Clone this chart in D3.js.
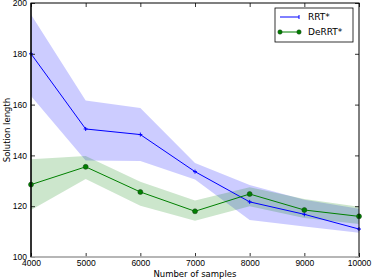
<!DOCTYPE html>
<html>
<head>
<meta charset="utf-8">
<script src="https://cdn.jsdelivr.net/npm/d3@7"></script>
<style>
    body { margin: 0; background: #fff; }
    svg { display: block; font-family: "DejaVu Sans", sans-serif; }
</style>
</head>
<body>
<svg id="chart" width="374" height="280"></svg>
<script>
// Data
const samples = [4000, 5000, 6000, 7000, 8000, 9000, 10000];
const rrtMean = [180, 150.4, 148.2, 133.6, 121.7, 116.8, 111];
const rrtUpper = [195.5, 161.6, 158.7, 137, 128.3, 122.5, 119];
const rrtLower = [163.4, 138, 137.8, 130.5, 114.6, 112, 109.5];
const derrtMean = [128.5, 135.5, 125.6, 118, 124.8, 118.5, 116];
const derrtUpper = [138.5, 139.8, 129.6, 122.2, 127.5, 122.8, 119.8];
const derrtLower = [118.5, 130.7, 120.2, 114.3, 120, 115.4, 113];
const xTicks = [4000, 5000, 6000, 7000, 8000, 9000, 10000];
const yTicks = [100, 120, 140, 160, 180, 200];

const margin = { top: 3, right: 15, bottom: 23, left: 31 };
const svg = d3.select('#chart');
const width = 374 - margin.left - margin.right;
const height = 280 - margin.top - margin.bottom;

const x = d3.scaleLinear().domain([4000, 10000]).range([0, width]);
const y = d3.scaleLinear().domain([100, 200]).range([height, 0]);

const g = svg.append('g').attr('transform', `translate(${margin.left},${margin.top})`);

// Bands
const area = (lo, hi) => d3.area()
    .x((d, i) => x(samples[i]))
    .y0((d, i) => y(lo[i]))
    .y1((d, i) => y(hi[i]));

g.append('path')
    .datum(samples)
    .attr('d', area(rrtLower, rrtUpper))
    .attr('fill', '#0000ff')
    .attr('fill-opacity', 0.2);

g.append('path')
    .datum(samples)
    .attr('d', area(derrtLower, derrtUpper))
    .attr('fill', '#008000')
    .attr('fill-opacity', 0.2);

// Lines
const line = vals => d3.line()
    .x((d, i) => x(samples[i]))
    .y((d, i) => y(vals[i]));

g.append('path')
    .datum(samples)
    .attr('d', line(rrtMean))
    .attr('fill', 'none')
    .attr('stroke', '#0000ff')
    .attr('stroke-width', 1);

g.append('path')
    .datum(samples)
    .attr('d', line(derrtMean))
    .attr('fill', 'none')
    .attr('stroke', '#008000')
    .attr('stroke-width', 1);

// Markers
g.selectAll('.plus')
    .data(samples)
    .enter()
    .append('path')
    .attr('d', (d, i) => `M${x(d) - 2},${y(rrtMean[i])}h4M${x(d)},${y(rrtMean[i]) - 2}v4`)
    .attr('stroke', '#0000ff')
    .attr('stroke-width', 1);

g.selectAll('.dot')
    .data(samples)
    .enter()
    .append('circle')
    .attr('cx', d => x(d))
    .attr('cy', (d, i) => y(derrtMean[i]))
    .attr('r', 2.5)
    .attr('fill', '#008000')
    .attr('stroke', '#1a3a1a')
    .attr('stroke-width', 0.5);

// Axes
const xAxis = d3.axisBottom(x).tickValues(xTicks).tickSize(-4).tickPadding(4).tickFormat(d3.format('d'));
const yAxis = d3.axisLeft(y).tickValues(yTicks).tickSize(-4).tickPadding(4);

const xg = g.append('g').attr('transform', `translate(0,${height})`).call(xAxis);
const yg = g.append('g').call(yAxis);
g.append('g').call(d3.axisTop(x).tickValues(xTicks).tickSize(-4).tickFormat(''));
g.append('g').attr('transform', `translate(${width},0)`).call(d3.axisRight(y).tickValues(yTicks).tickSize(-4).tickFormat(''));

g.selectAll('.domain').remove();
g.selectAll('.tick line').attr('stroke', '#000').attr('stroke-width', 0.8);
g.selectAll('.tick text').attr('font-size', 8.5).attr('fill', '#000');
xg.selectAll('.tick text').attr('dy', '0.55em');

// Frame
g.append('rect')
    .attr('width', width)
    .attr('height', height)
    .attr('fill', 'none')
    .attr('stroke', '#000')
    .attr('stroke-width', 1);
g.append('line')
    .attr('x1', 0).attr('x2', width)
    .attr('y1', height).attr('y2', height)
    .attr('stroke', '#c8c8c8')
    .attr('stroke-width', 1.5);
g.append('line')
    .attr('x1', 0).attr('x2', 0)
    .attr('y1', 0).attr('y2', height)
    .attr('stroke', '#000')
    .attr('stroke-width', 1.2);

// Axis labels
svg.append('text')
    .attr('x', margin.left + width / 2)
    .attr('y', 277)
    .attr('text-anchor', 'middle')
    .attr('font-size', 8.5)
    .text('Number of samples');

svg.append('text')
    .attr('transform', `translate(10,${margin.top + height / 2}) rotate(-90)`)
    .attr('text-anchor', 'middle')
    .attr('font-size', 8.5)
    .text('Solution length');

// Legend
const legend = svg.append('g').attr('transform', 'translate(275,8)');
legend.append('rect')
    .attr('width', 78)
    .attr('height', 34)
    .attr('fill', '#fff')
    .attr('stroke', '#000')
    .attr('stroke-width', 0.8);

legend.append('line')
    .attr('x1', 5).attr('x2', 24).attr('y1', 9).attr('y2', 9)
    .attr('stroke', '#0000ff');
legend.append('path')
    .attr('d', 'M24,7v4')
    .attr('stroke', '#0000ff');
legend.append('text')
    .attr('x', 33).attr('y', 12)
    .attr('font-size', 9)
    .text('RRT*');

legend.append('line')
    .attr('x1', 5).attr('x2', 24).attr('y1', 24).attr('y2', 24)
    .attr('stroke', '#008000');
legend.selectAll('.ldot')
    .data([5, 24])
    .enter()
    .append('circle')
    .attr('cx', d => d)
    .attr('cy', 24)
    .attr('r', 2.2)
    .attr('fill', '#008000')
    .attr('stroke', '#1a3a1a')
    .attr('stroke-width', 0.5);
legend.append('text')
    .attr('x', 33).attr('y', 27)
    .attr('font-size', 9)
    .text('DeRRT*');
</script>
</body>
</html>
